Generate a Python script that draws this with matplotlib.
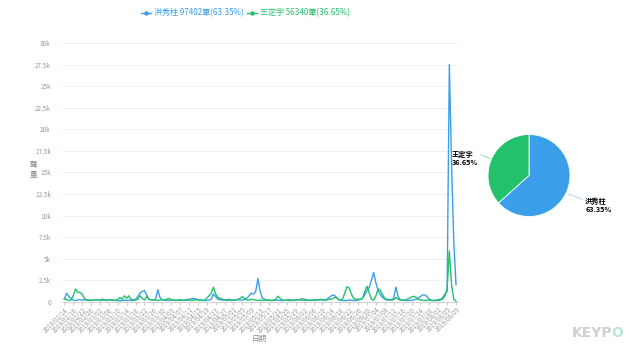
import matplotlib
matplotlib.use("Agg")
import matplotlib.pyplot as plt
import numpy as np
import pandas as pd

plt.rcParams['font.family'] = ['Noto Sans CJK TC', 'DejaVu Sans']

start_date = "2019-02-14"
names = ["洪秀柱", "王定宇"]
totals = [97402, 56340]
pcts = ["63.35%", "36.65%"]
colors = ["#3a9fe8", "#23c16b"]

blue = [300, 1000, 650, 350, 200, 150, 200, 250, 200, 200,
        250, 200, 150, 200, 250, 200, 200, 300, 250, 200,
        200, 250, 200, 150, 150, 100, 150, 200, 150, 200,
        150, 150, 300, 600, 1000, 1200, 1300, 800, 300, 250,
        200, 300, 1400, 500, 250, 200, 200, 150, 200, 200,
        150, 200, 200, 150, 200, 250, 300, 350, 400, 350,
        250, 200, 200, 150, 150, 200, 300, 900, 600, 300,
        250, 200, 200, 150, 200, 150, 200, 200, 250, 200,
        200, 250, 400, 700, 1000, 900, 1200, 2700, 1200, 400,
        300, 200, 200, 150, 150, 200, 200, 150, 150, 200,
        200, 150, 150, 200, 150, 250, 200, 200, 150, 200,
        200, 150, 200, 150, 200, 250, 200, 200, 300, 500,
        700, 800, 600, 300, 200, 150, 150, 150, 200, 200,
        150, 150, 200, 250, 400, 800, 1300, 1700, 2500, 3400,
        2200, 1300, 800, 500, 300, 200, 200, 250, 400, 1700,
        600, 200, 200, 150, 150, 150, 200, 200, 300, 400,
        600, 800, 800, 600, 300, 200, 150, 150, 150, 200,
        500, 900, 1200, 27500, 16000, 7000, 2000]

green = [400, 250, 150, 200, 700, 1500, 1100, 1100, 900, 400,
         200, 150, 200, 150, 250, 200, 150, 200, 200, 150,
         200, 200, 150, 200, 250, 500, 300, 700, 400, 700,
         300, 200, 200, 300, 700, 400, 200, 600, 300, 200,
         250, 200, 150, 200, 250, 200, 300, 400, 250, 200,
         150, 200, 250, 200, 150, 200, 200, 150, 200, 250,
         200, 200, 150, 200, 400, 700, 1000, 1700, 900, 500,
         400, 300, 250, 200, 300, 200, 200, 250, 300, 400,
         600, 400, 200, 200, 300, 250, 200, 150, 200, 150,
         200, 150, 200, 150, 200, 300, 650, 400, 200, 150,
         200, 250, 200, 150, 250, 250, 300, 350, 300, 200,
         150, 200, 200, 250, 200, 300, 250, 200, 200, 300,
         300, 450, 500, 300, 200, 300, 1000, 1750, 1600, 900,
         400, 300, 300, 300, 400, 1200, 1800, 1000, 300, 200,
         700, 1500, 1300, 800, 400, 300, 250, 200, 250, 500,
         300, 200, 200, 200, 300, 400, 550, 650, 500, 300,
         200, 200, 150, 200, 200, 150, 150, 200, 250, 300,
         300, 700, 1500, 5900, 2000, 300, 50]

dates = pd.date_range(start_date, periods=len(blue), freq="D")
x = np.arange(len(blue))
labels = [d.strftime("%Y/%m/%d") for d in dates]

fig = plt.figure(figsize=(6.4, 3.53), dpi=100)
ax = fig.add_axes([0.097, 0.145, 0.619, 0.733])
ax.plot(x, blue, color=colors[0], lw=1.0)
ax.plot(x, green, color=colors[1], lw=1.0)
ax.set_xlim(-1, len(x))
ax.set_ylim(0, 30000)
yt = np.arange(0, 30001, 2500)
ax.set_yticks(yt)
ax.set_yticklabels(["0" if v == 0 else (f"{v/1000:g}k") for v in yt],
                   fontsize=4.6, color="#999999")
ax.grid(axis="y", color="#eeeeee", lw=0.6)
ax.set_axisbelow(True)
for s in ["top", "right", "left"]:
    ax.spines[s].set_visible(False)
ax.spines["bottom"].set_color("#cccccc")
ax.spines["bottom"].set_linewidth(0.6)
ax.tick_params(axis="y", length=0, pad=8)
ax.tick_params(axis="x", length=2, color="#cccccc", pad=1)
ax.set_xticks(x[::4])
ax.set_xticklabels(labels[::4], rotation=45, ha="right", rotation_mode="anchor",
                   fontsize=4.4, color="#999999")
fig.text(0.405, 0.035, "日期", fontsize=5.5, color="#888888", ha="center")
fig.text(0.052, 0.52, "聲\n量", fontsize=5.5, color="#888888", ha="center",
         va="center", linespacing=1.25)

# legend
lx = [0.220, 0.386]
for i in range(2):
    fig.lines.append(plt.Line2D([lx[i], lx[i] + 0.016], [0.964, 0.964], transform=fig.transFigure,
                                color=colors[i], lw=1.0))
    fig.lines.append(plt.Line2D([lx[i] + 0.008], [0.964], transform=fig.transFigure,
                                color=colors[i], marker="o", ms=2.2))
    fig.text(lx[i] + 0.021, 0.964, f"{names[i]} {totals[i]}筆({pcts[i]})",
             fontsize=5.8, color=colors[i], va="center")

# pie
cx, cy, r = 529 / 640, 1 - 175.5 / 353, 41
pw, ph = 2 * r / 640, 2 * r / 353
pax = fig.add_axes([cx - pw / 2, cy - ph / 2, pw, ph])
pax.pie(totals, colors=colors, startangle=90, counterclock=False,
        wedgeprops=dict(edgecolor="white", linewidth=0.6))
pax.set_xlim(-1, 1)
pax.set_ylim(-1, 1)
pax.annotate(f"{names[1]}\n{pcts[1]}", xy=(-0.92, 0.4), xytext=(-1.88, 0.42),
             fontsize=5.2, fontweight="bold", ha="left", va="center",
             arrowprops=dict(arrowstyle="-", color="#7ee0a8", lw=0.6, shrinkA=0, shrinkB=0,
                             relpos=(1.0, 0.8)),
             annotation_clip=False)
pax.annotate(f"{names[0]}\n{pcts[0]}", xy=(0.96, -0.45), xytext=(1.37, -0.72),
             fontsize=5.2, fontweight="bold", ha="left", va="center",
             arrowprops=dict(arrowstyle="-", color="#9fd0f5", lw=0.6, shrinkA=0, shrinkB=0,
                             relpos=(0.0, 0.8)),
             annotation_clip=False)

fig.text(0.893, 0.045, "KEYP", fontsize=10, fontweight="bold", color="#d0d0d0",
         ha="left", family="DejaVu Sans")
fig.text(0.9735, 0.045, "O", fontsize=10, fontweight="bold", color="#b9e8d8",
         ha="right", family="DejaVu Sans")

fig.savefig("out.png", dpi=100)
